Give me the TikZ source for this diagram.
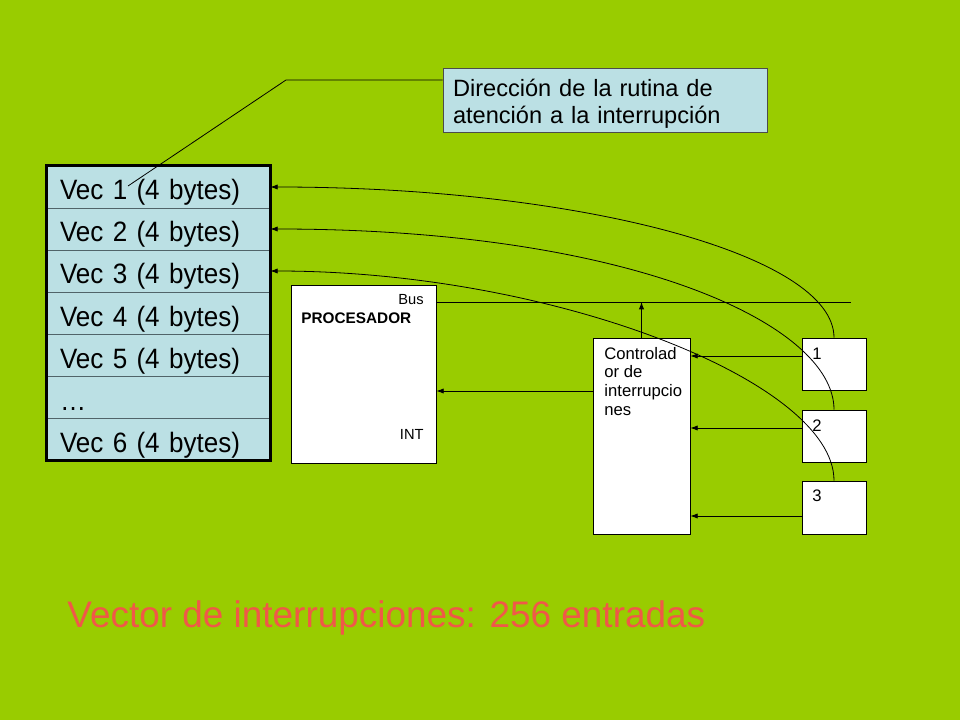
\documentclass[tikz,border=0pt]{standalone}
\usepackage{fontspec}
\setmainfont{Liberation Sans}
\newfontfamily\vecfont[FakeStretch=0.93]{Liberation Sans}
\usetikzlibrary{positioning,arrows.meta}
\definecolor{slidegreen}{RGB}{153,204,0}
\definecolor{cellblue}{RGB}{187,224,228}
\definecolor{rowline}{RGB}{80,100,105}
\definecolor{titlered}{RGB}{240,88,72}

\begin{document}
\begin{tikzpicture}[x=0.75pt,y=-0.75pt,node distance=31.5pt,on grid,line width=0.6pt,
	vecbox/.style={draw=rowline,fill=cellblue,minimum height=31.5pt,inner xsep=9.75pt,text width=147.75pt,text height=19.5pt,text depth=0pt,align=left,font=\vecfont\fontsize{21}{24}\selectfont},
	callbox/.style={draw=black!70,fill=cellblue,minimum height=48pt,inner xsep=7.5pt,text width=228pt,text depth=18.7pt,align=left,font=\fontsize{17.7}{20.6}\selectfont},
	hwbox/.style={draw,fill=white,inner sep=0pt},
	smalltext/.style={inner sep=0pt,font=\fontsize{11}{13}\selectfont},
	ctltext/.style={inner sep=0pt,align=left,font=\fontsize{12.5}{14}\selectfont},
	arr/.style={-{Latex[length=5.5pt,width=4pt]}}]
	\useasboundingbox (0,0) rectangle (960,720);
	\fill[slidegreen] (0,0) rectangle (960,720);
	% vector table
	\node[vecbox] (vec_1) at (158.5,187) {Vec 1 (4 bytes)};
	\node[vecbox] (vec_2) [below=of vec_1] {Vec 2 (4 bytes)};
	\node[vecbox] (vec_3) [below=of vec_2] {Vec 3 (4 bytes)};
	\node[vecbox] (vec_4) [below=of vec_3] {Vec 4 (4 bytes)};
	\node[vecbox] (vec_5) [below=of vec_4] {Vec 5 (4 bytes)};
	\node[vecbox] (vec_6) [below=of vec_5] {…};
	\node[vecbox] (vec_7) [below=of vec_6] {Vec 6 (4 bytes)};
	\draw[line width=2.2pt] (vec_1.north west) rectangle (vec_7.south east);
	% callout
	\node[callbox] (dir) at (605,100) {Dirección de la rutina de\\atención a la interrupción};
	\coordinate (kink) at (286,80);
	\coordinate (ltip) at (128,186);
	\draw (dir.west |- kink) -- (kink) -- (ltip);
	% processor
	\node[hwbox,minimum width=108.75pt,minimum height=133.5pt] (proc) at (363.5,374) {};
	\node[smalltext,anchor=base east] (bus) at (424,305) {Bus};
	\node[smalltext,font=\fontsize{11.5}{13}\selectfont\bfseries,anchor=base west] (pname) at (301,324) {PROCESADOR};
	\node[smalltext,anchor=base east] (int) at (424,439) {INT};
	% controller and devices
	\node[hwbox,minimum width=72.75pt,minimum height=147pt] (ctl) at (641.5,436) {};
	\node[ctltext,anchor=base west] (ctlname) at (604,415) {Controlad\\or de\\interrupcio\\nes};
	\node[hwbox,minimum width=48pt,minimum height=39pt] (dev_1) at (834,364) {};
	\node[hwbox,minimum width=48pt,minimum height=39pt] (dev_2) at (834,436) {};
	\node[hwbox,minimum width=48pt,minimum height=39.75pt] (dev_3) at (834,507.5) {};
	\node[ctltext,anchor=base west] (lab_1) at (812,359) {1};
	\node[ctltext,anchor=base west] (lab_2) at (812,431) {2};
	\node[ctltext,anchor=base west] (lab_3) at (812,501) {3};
	% bus and lines
	\coordinate (busend) at (851,302);
	\coordinate (cint) at (0,391);
	\coordinate (r_1) at (0,356);
	\coordinate (r_2) at (0,428);
	\coordinate (r_3) at (0,516);
	\draw (proc.east |- busend) -- (busend);
	\path[arr]
	(ctl.north) edge (ctl.north |- busend)
	(ctl.west |- cint) edge (proc.east |- cint)
	(dev_1.west |- r_1) edge (ctl.east |- r_1)
	(dev_2.west |- r_2) edge (ctl.east |- r_2)
	(dev_3.west |- r_3) edge (ctl.east |- r_3)
	(dev_1.north) edge [out=90,in=0,out distance=62pt,in distance=232pt] (vec_1.east)
	(dev_2.north) edge [out=90,in=0,out distance=64pt,in distance=270pt] (vec_2.east)
	(dev_3.north) edge [out=90,in=0,out distance=75pt,in distance=210pt] (vec_3.east);
	% caption
	\node[anchor=base west,inner sep=0pt,text=titlered,font=\fontsize{27.7}{32}\selectfont] (caption) at (67,627) {Vector de interrupciones: 256 entradas};
\end{tikzpicture}
\end{document}
